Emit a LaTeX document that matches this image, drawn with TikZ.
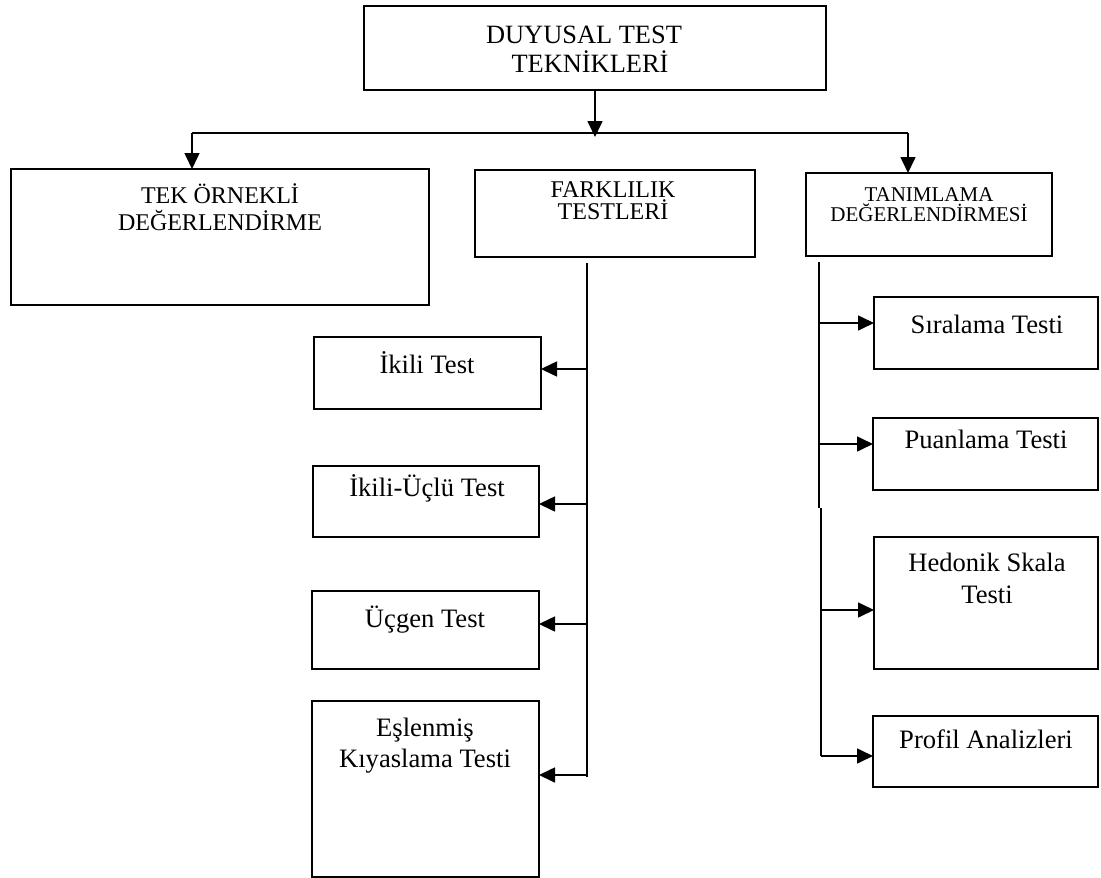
\documentclass[tikz,border=0pt]{standalone}
\usepackage{fontspec}
\setmainfont{Liberation Serif}
\usetikzlibrary{arrows.meta}
\begin{document}
\begin{tikzpicture}[x=1pt,y=-1pt,
  box/.style={draw, line width=1.7pt, inner sep=0pt, outer sep=0pt, anchor=north west},
  lbl/.style={anchor=base, inner sep=0pt, align=center},
  big/.style={font=\fontsize{26.6}{30.5}\selectfont},
  conn/.style={line width=1.6pt},
  arr/.style={conn, -{Triangle[length=16pt,width=15pt]}}]
\useasboundingbox (0,0) rectangle (1101,878);
% boxes
\node[box, minimum width=462, minimum height=84] (top) at (364,6) {};
\node[box, minimum width=418, minimum height=136] (tek) at (11,169) {};
\node[box, minimum width=280, minimum height=87] (far) at (475,170) {};
\node[box, minimum width=246, minimum height=83] (tan) at (806,173) {};
\node[box, minimum width=227, minimum height=72] (ikili) at (314,337) {};
\node[box, minimum width=226, minimum height=71] (ikuc) at (313,466) {};
\node[box, minimum width=227, minimum height=78] (ucgen) at (312,591) {};
\node[box, minimum width=227, minimum height=176] (esl) at (312,701) {};
\node[box, minimum width=224, minimum height=72] (sir) at (874,297) {};
\node[box, minimum width=225, minimum height=72] (pua) at (873,418) {};
\node[box, minimum width=224, minimum height=132] (hed) at (874,537) {};
\node[box, minimum width=225, minimum height=71] (pro) at (873,716) {};
% texts (base anchor = last line)
\node[lbl, font=\fontsize{26.4}{28.5}\selectfont] (top-t) at (590,72) {DUYUSAL TEST\kern12pt\\TEKNİKLERİ};
\node[lbl, font=\fontsize{24}{27}\selectfont] (tek-t) at (220,230) {TEK ÖRNEKLİ\\DEĞERLENDİRME};
\node[lbl, font=\fontsize{24}{22}\selectfont] (far-t) at (613,219) {FARKLILIK\\TESTLERİ};
\node[lbl, font=\fontsize{21}{20}\selectfont] (tan-t) at (929,221) {TANIMLAMA\\DEĞERLENDİRMESİ};
\node[lbl, big] (ikili-t) at (427,373) {İkili Test};
\node[lbl, big] (ikuc-t) at (427,496) {İkili-Üçlü Test};
\node[lbl, big] (ucgen-t) at (425,627) {Üçgen Test};
\node[lbl, big] (esl-t) at (425,767) {Eşlenmiş\\Kıyaslama Testi};
\node[lbl, big] (sir-t) at (987,333) {Sıralama Testi};
\node[lbl, big] (pua-t) at (986,448) {Puanlama Testi};
\node[lbl, font=\fontsize{26.6}{31.6}\selectfont] (hed-t) at (987,603) {Hedonik Skala\\Testi};
\node[lbl, big] (pro-t) at (986,748) {Profil Analizleri};
% connectors
\coordinate (hub) at (595,137);
\coordinate (busL) at (192,133);
\coordinate (busR) at (908,133);
\draw[arr] (top.south -| hub) -- (hub);
\draw[conn] (busL) -- (busR);
\draw[arr] (busL) -- (busL |- tek.north);
\draw[arr] (busR) -- (busR |- tan.north);
% middle trunk
\coordinate (mT) at (587,263);
\coordinate (mB) at (587,777);
\draw[conn] (mT) -- (mB);
\draw[arr] (mT |- 0,369) -- (ikili.east |- 0,369);
\draw[arr] (mT |- 0,504) -- (ikuc.east |- 0,504);
\draw[arr] (mT |- 0,624) -- (ucgen.east |- 0,624);
\draw[arr] (mT |- 0,775) -- (esl.east |- 0,775);
% right trunk
\coordinate (rT) at (819,262);
\coordinate (rM) at (819,508);
\coordinate (rM2) at (821,508);
\coordinate (rB) at (821,756);
\draw[conn] (rT) -- (rM);
\draw[conn] (rM2) -- (rB);
\draw[arr] (rT |- 0,323) -- (sir.west |- 0,323);
\draw[arr] (rT |- 0,444) -- (pua.west |- 0,444);
\draw[arr] (rM2 |- 0,610) -- (hed.west |- 0,610);
\draw[arr] (rB) -- (pro.west |- rB);
\end{tikzpicture}
\end{document}
